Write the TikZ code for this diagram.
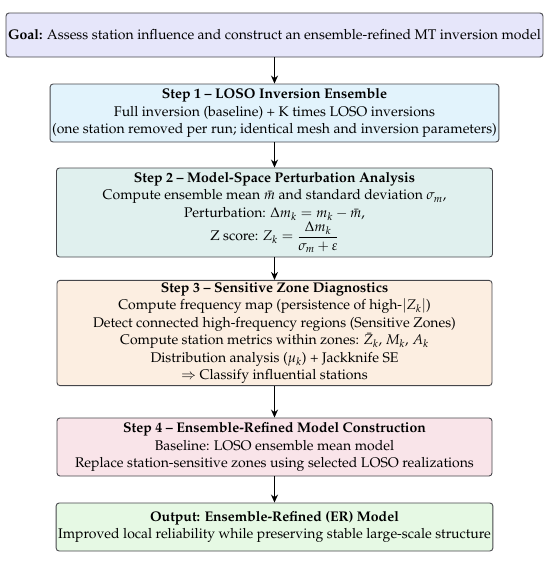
\documentclass[tikz,border=0pt]{standalone}
\usepackage[T1]{fontenc}
\usepackage{mathpazo}
\usetikzlibrary{arrows.meta}
\definecolor{goalc}{RGB}{230,230,250}
\definecolor{stepA}{RGB}{226,243,252}
\definecolor{stepB}{RGB}{224,240,238}
\definecolor{stepC}{RGB}{252,238,225}
\definecolor{stepD}{RGB}{249,228,233}
\definecolor{outc}{RGB}{230,249,228}
\definecolor{edge}{RGB}{70,70,75}
\tikzset{
  box/.style={draw=edge, line width=0.9pt, rounded corners=3pt, align=center,
    inner sep=2pt, font=\fontsize{14}{17.5}\selectfont},
  arr/.style={line width=1.1pt, -{Stealth[length=8pt,width=7pt]}}
}
\begin{document}
\begin{tikzpicture}[x=1pt,y=-1pt]
\useasboundingbox (0,0) rectangle (550,562);
\node[box, fill=goalc, minimum width=534pt, minimum height=44pt] (goal) at (274.5,35)
  {\textbf{Goal:} Assess station influence and construct an ensemble-refined MT inversion model};
\node[box, fill=stepA, minimum width=447pt, minimum height=58pt] (s1) at (274.5,113)
  {\textbf{Step 1 -- LOSO Inversion Ensemble}\\
   Full inversion (baseline) + K times LOSO inversions\\
   (one station removed per run; identical mesh and inversion parameters)};
\node[box, fill=stepB, minimum width=436pt, minimum height=89pt] (s2) at (274.5,212.5)
  {\textbf{Step 2 -- Model-Space Perturbation Analysis}\\
   Compute ensemble mean $\bar{m}$ and standard deviation $\sigma_m$,\\
   Perturbation: $\Delta m_k = m_k - \bar{m}$,\\
   Z score: $Z_k = \displaystyle\frac{\Delta m_k}{\sigma_m + \varepsilon}$};
\node[box, fill=stepC, minimum width=435pt, minimum height=98pt] (s3) at (274.5,333)
  {\textbf{Step 3 -- Sensitive Zone Diagnostics}\\
   Compute frequency map (persistence of high-$|Z_k|$)\\
   Detect connected high-frequency regions (Sensitive Zones)\\
   Compute station metrics within zones: $\bar{Z}_k$, $M_k$, $A_k$\\
   Distribution analysis ($\mu_k$) + Jackknife SE\\
   $\Rightarrow$ Classify influential stations};
\node[box, fill=stepD, minimum width=435pt, minimum height=58pt] (s4) at (274.5,447)
  {\textbf{Step 4 -- Ensemble-Refined Model Construction}\\
   Baseline: LOSO ensemble mean model\\
   Replace station-sensitive zones using selected LOSO realizations};
\node[box, fill=outc, minimum width=435pt, minimum height=48pt] (out) at (274.5,527)
  {\textbf{Output: Ensemble-Refined (ER) Model}\\
   Improved local reliability while preserving stable large-scale structure};
\draw[arr] (goal.south) -- (s1.north);
\draw[arr] (s1.south) -- (s2.north);
\draw[arr] (s2.south) -- (s3.north);
\draw[arr] (s3.south) -- (s4.north);
\draw[arr] (s4.south) -- (out.north);
\end{tikzpicture}
\end{document}
